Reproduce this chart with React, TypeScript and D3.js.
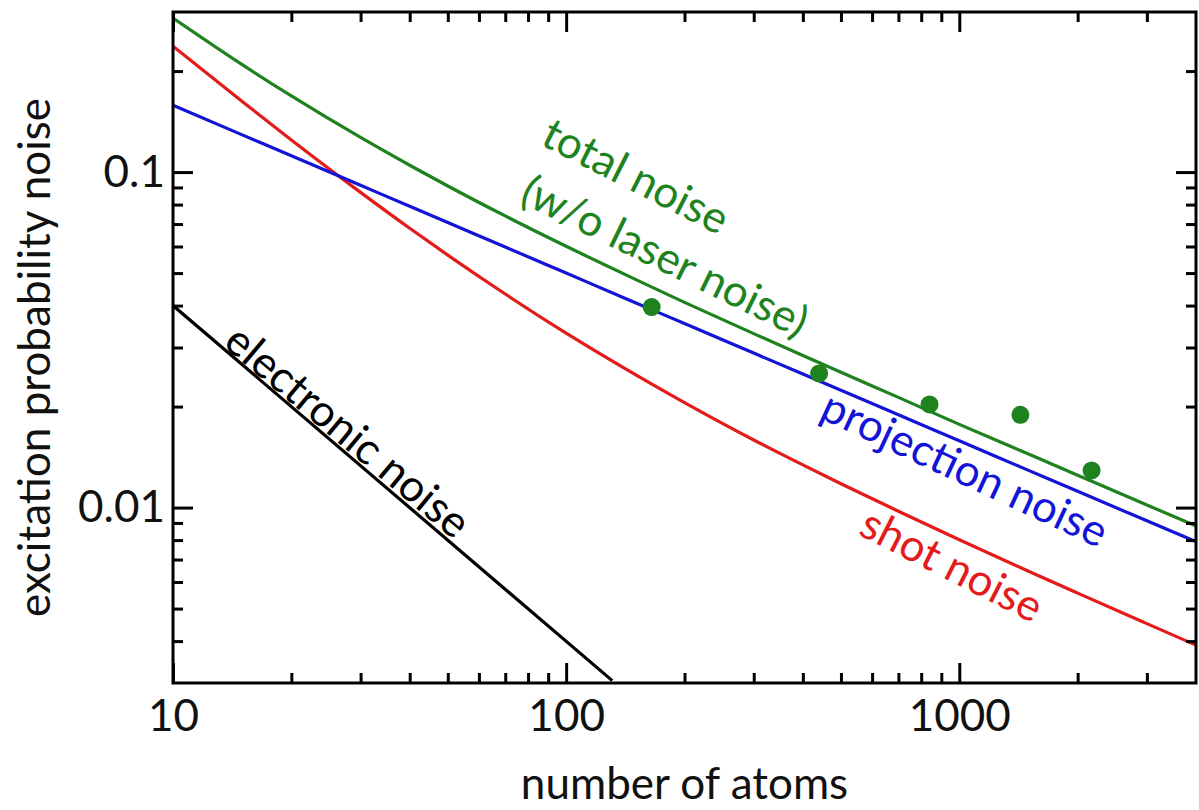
import React, { useEffect, useRef } from 'react';
import * as d3 from 'd3';

const atoms = [10, 15, 20, 30, 40, 50, 70, 100, 150, 200, 300, 400, 500, 700, 1000, 1500, 2000, 3000, 4000];
const shotNoise = [0.2371, 0.1622, 0.1247, 0.087, 0.068, 0.05655, 0.0433, 0.0331, 0.0249, 0.02055, 0.0159, 0.0134, 0.01178, 0.00975, 0.00802, 0.00646, 0.00556, 0.00451, 0.00389];
const projectionNoise = [0.1581, 0.1291, 0.1118, 0.0913, 0.0791, 0.0707, 0.0598, 0.05, 0.0408, 0.03536, 0.02887, 0.025, 0.02236, 0.0189, 0.01581, 0.01291, 0.01118, 0.00913, 0.00791];
const totalNoise = [0.2878, 0.209, 0.1686, 0.1268, 0.1048, 0.0909, 0.074, 0.0601, 0.0479, 0.0409, 0.033, 0.0284, 0.0253, 0.0213, 0.0177, 0.01444, 0.01249, 0.01018, 0.00881];

const electronicAtoms = [10, 131];
const electronicNoise = [0.04, 0.00305];

// measured points
const measuredAtoms = [165, 440, 840, 1430, 2170];
const measuredNoise = [0.0396, 0.0251, 0.0203, 0.0189, 0.0129];

const xMajor = [10, 100, 1000];
const xMinor = [20, 30, 40, 50, 60, 70, 80, 90, 200, 300, 400, 500, 600, 700, 800, 900, 2000, 3000];
const yMajor = [0.1, 0.01];
const yMinor = [0.004, 0.005, 0.006, 0.007, 0.008, 0.009, 0.02, 0.03, 0.04, 0.05, 0.06, 0.07, 0.08, 0.09, 0.2];

const GREEN = '#1e821e';
const RED = '#e31b1b';
const BLUE = '#1414d6';
const FONT = 'Lato, "Open Sans", sans-serif';
const FS = 44;

const App = () => {
  const ref = useRef<SVGSVGElement>(null);

  useEffect(() => {
    const svg = d3.select(ref.current);
    svg.selectAll('*').remove();

    const left = 173, right = 1196, top = 12, bottom = 683;

    const x = d3.scaleLog().domain([10, 4000]).range([left, right]);
    const y = d3.scaleLog().domain([0.003, 0.3]).range([bottom, top]);

    svg.append('defs').append('clipPath').attr('id', 'plot')
      .append('rect')
      .attr('x', left).attr('y', top)
      .attr('width', right - left).attr('height', bottom - top);

    const line = d3.line<[number, number]>()
      .x(d => x(d[0]))
      .y(d => y(d[1]))
      .curve(d3.curveMonotoneX);

    const plot = svg.append('g').attr('clip-path', 'url(#plot)');

    const series: [number[], number[], string][] = [
      [electronicAtoms, electronicNoise, '#000'],
      [atoms, shotNoise, RED],
      [atoms, projectionNoise, BLUE],
      [atoms, totalNoise, GREEN],
    ];
    series.forEach(([xs, ys, color]) => {
      plot.append('path')
        .datum(xs.map((v, i) => [v, ys[i]] as [number, number]))
        .attr('d', line)
        .attr('fill', 'none')
        .attr('stroke', color)
        .attr('stroke-width', 3.2);
    });

    plot.selectAll('circle')
      .data(measuredAtoms.map((v, i) => [v, measuredNoise[i]]))
      .enter()
      .append('circle')
      .attr('cx', d => x(d[0]))
      .attr('cy', d => y(d[1]))
      .attr('r', 9)
      .attr('fill', GREEN);

    // axes, ticks pointing inwards on all four sides
    const styleAxis = (g: any) => {
      g.select('.domain').remove();
      g.selectAll('.tick line').attr('stroke', '#000').attr('stroke-width', 3);
      g.selectAll('.tick text')
        .attr('fill', '#111')
        .attr('font-family', FONT)
        .attr('font-size', FS);
    };
    const none = () => '';

    svg.append('g').attr('transform', `translate(0,${bottom})`)
      .call(d3.axisBottom(x).tickValues(xMajor).tickSize(-20).tickPadding(17).tickFormat(d3.format('d')))
      .call(styleAxis);
    svg.append('g').attr('transform', `translate(0,${bottom})`)
      .call(d3.axisBottom(x).tickValues(xMinor).tickSize(-10).tickFormat(none))
      .call(styleAxis);
    svg.append('g').attr('transform', `translate(0,${top})`)
      .call(d3.axisTop(x).tickValues(xMajor).tickSize(-20).tickFormat(none))
      .call(styleAxis);
    svg.append('g').attr('transform', `translate(0,${top})`)
      .call(d3.axisTop(x).tickValues(xMinor).tickSize(-10).tickFormat(none))
      .call(styleAxis);

    svg.append('g').attr('transform', `translate(${left},0)`)
      .call(d3.axisLeft(y).tickValues(yMajor).tickSize(-20).tickPadding(8).tickFormat(d => String(d)))
      .call(styleAxis);
    svg.append('g').attr('transform', `translate(${left},0)`)
      .call(d3.axisLeft(y).tickValues(yMinor).tickSize(-10).tickFormat(none))
      .call(styleAxis);
    svg.append('g').attr('transform', `translate(${right},0)`)
      .call(d3.axisRight(y).tickValues(yMajor).tickSize(-20).tickFormat(none))
      .call(styleAxis);
    svg.append('g').attr('transform', `translate(${right},0)`)
      .call(d3.axisRight(y).tickValues(yMinor).tickSize(-10).tickFormat(none))
      .call(styleAxis);

    svg.append('rect')
      .attr('x', left).attr('y', top)
      .attr('width', right - left).attr('height', bottom - top)
      .attr('fill', 'none')
      .attr('stroke', '#000')
      .attr('stroke-width', 3);

    // axis titles
    svg.append('text')
      .attr('x', (left + right) / 2)
      .attr('y', 799)
      .attr('text-anchor', 'middle')
      .attr('font-family', FONT)
      .attr('font-size', FS)
      .attr('fill', '#111')
      .text('number of atoms');

    svg.append('text')
      .attr('transform', `translate(50,${(top + bottom) / 2 + 10}) rotate(-90)`)
      .attr('text-anchor', 'middle')
      .attr('font-family', FONT)
      .attr('font-size', FS)
      .attr('fill', '#111')
      .text('excitation probability noise');

    // curve labels
    const labels: [string, number, number, number, string][] = [
      ['total noise', 636, 176, 27, GREEN],
      ['(w/o laser noise)', 665, 256, 26, GREEN],
      ['projection noise', 965, 469, 25, BLUE],
      ['shot noise', 952, 565, 27, RED],
      ['electronic noise', 348, 431, 40, '#000'],
    ];
    labels.forEach(([t, cx, cy, angle, color]) => {
      svg.append('text')
        .attr('transform', `translate(${cx},${cy}) rotate(${angle})`)
        .attr('text-anchor', 'middle')
        .attr('dy', '0.35em')
        .attr('font-family', FONT)
        .attr('font-size', FS)
        .attr('fill', color)
        .text(t);
    });
  }, []);

  return (
    <svg
      ref={ref}
      width={1199}
      height={810}
      style={{ position: 'absolute', left: 0, top: 0, background: '#fff' }}
    />
  );
};

export default App;
